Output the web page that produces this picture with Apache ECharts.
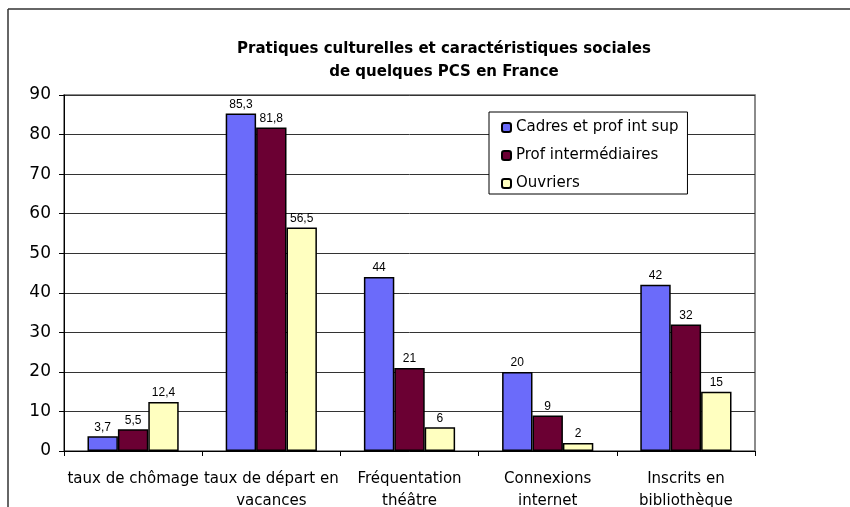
<!DOCTYPE html>
<html>
<head>
<meta charset="utf-8">
<script src="https://cdn.jsdelivr.net/npm/echarts@6/dist/echarts.min.js"></script>
<style>
  html, body { margin: 0; padding: 0; background: #fff; }
  #main { width: 850px; height: 507px; }
</style>
</head>
<body>
<div id="main"></div>
<script>
var categories = ['taux de chômage', 'taux de départ en\nvacances', 'Fréquentation\nthéâtre', 'Connexions\ninternet', 'Inscrits en\nbibliothèque'];
var cadres = [3.7, 85.3, 44, 20, 42];
var profInter = [5.5, 81.8, 21, 9, 32];
var ouvriers = [12.4, 56.5, 6, 2, 15];

var chart = echarts.init(document.getElementById('main'));
var FONT = 'DejaVu Sans';

function barLabel() {
    return {
        show: true,
        position: 'top',
        distance: 3,
        fontSize: 12,
        fontFamily: 'Arial, Liberation Sans',
        color: '#000',
        formatter: function (p) { return String(p.value).replace('.', ','); }
    };
}

var option = {
    backgroundColor: '#fff',
    animation: false,
    title: {
        text: 'Pratiques culturelles et caractéristiques sociales\nde quelques PCS en France',
        left: 439,
        top: 33,
        textAlign: 'center',
        textStyle: {
            fontFamily: FONT,
            fontSize: 15,
            fontWeight: 'bold',
            color: '#000',
            lineHeight: 23
        }
    },
    legend: {
        orient: 'vertical',
        left: 489,
        top: 112,
        padding: [7, 9, 2, 12],
        itemGap: 11,
        itemWidth: 9,
        itemHeight: 9,
        backgroundColor: '#fff',
        borderColor: '#000',
        borderWidth: 1,
        textStyle: { fontFamily: FONT, fontSize: 15, lineHeight: 17, color: '#000' },
        data: ['Cadres et prof int sup', 'Prof intermédiaires', 'Ouvriers']
    },
    graphic: [
        { type: 'line', shape: { x1: 8, y1: 9, x2: 850, y2: 9 }, style: { stroke: '#333', lineWidth: 1.5 } },
        { type: 'line', shape: { x1: 8, y1: 9, x2: 8, y2: 507 }, style: { stroke: '#333', lineWidth: 1.5 } }
    ],
    grid: {
        left: 64,
        right: 95,
        top: 95,
        bottom: 56,
        outerBoundsMode: 'none',
        containLabel: false,
        show: true,
        borderColor: '#666',
        borderWidth: 1.5,
        backgroundColor: '#fff'
    },
    xAxis: {
        type: 'category',
        data: categories,
        axisLine: { lineStyle: { color: '#000', width: 1 } },
        axisTick: { show: true, length: 5, lineStyle: { color: '#000' } },
        axisLabel: {
            interval: 0,
            margin: 17,
            fontFamily: FONT,
            fontSize: 15,
            lineHeight: 22,
            color: '#000'
        }
    },
    yAxis: {
        type: 'value',
        min: 0,
        max: 90,
        interval: 10,
        axisLine: { show: true, lineStyle: { color: '#000', width: 1 } },
        axisTick: { show: true, length: 5, lineStyle: { color: '#000' } },
        axisLabel: {
            margin: 13,
            fontFamily: FONT,
            fontSize: 17,
            color: '#000'
        },
        splitLine: { lineStyle: { color: '#333', width: 1 } }
    },
    series: [
        {
            name: 'Cadres et prof int sup',
            type: 'bar',
            data: cadres,
            barGap: '0%',
            barCategoryGap: '34%',
            itemStyle: { color: '#6b6bfa', borderColor: '#000', borderWidth: 1.5 },
            label: barLabel()
        },
        {
            name: 'Prof intermédiaires',
            type: 'bar',
            data: profInter,
            itemStyle: { color: '#6b0033', borderColor: '#000', borderWidth: 1.5 },
            label: barLabel()
        },
        {
            name: 'Ouvriers',
            type: 'bar',
            data: ouvriers,
            itemStyle: { color: '#ffffc0', borderColor: '#000', borderWidth: 1.5 },
            label: barLabel()
        }
    ]
};

chart.setOption(option);
</script>
</body>
</html>
